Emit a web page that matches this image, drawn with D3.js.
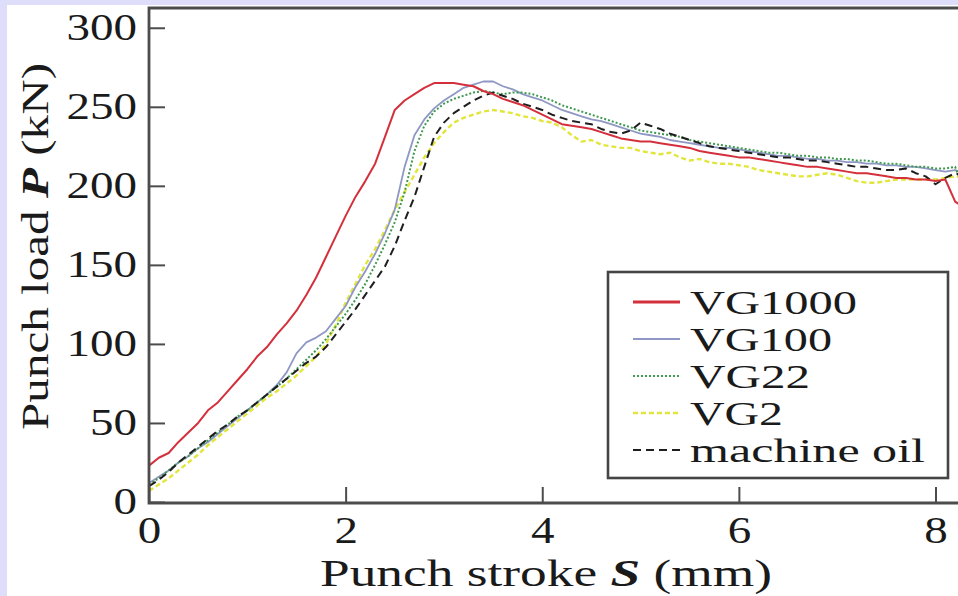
<!DOCTYPE html>
<html>
<head>
<meta charset="utf-8">
<script src="https://cdn.jsdelivr.net/npm/d3@7/dist/d3.min.js"></script>
<style>
  html, body { margin: 0; padding: 0; background: #ffffff; }
  svg { display: block; }
</style>
</head>
<body>
<svg id="chart" width="958" height="596"></svg>
<script>
// Punch stroke S (mm), sampled every 0.1 mm
const stroke = [
  0.0, 0.1, 0.2, 0.3, 0.4, 0.5, 0.6, 0.7, 0.8, 0.9,
  1.0, 1.1, 1.2, 1.3, 1.4, 1.5, 1.6, 1.7, 1.8, 1.9,
  2.0, 2.1, 2.2, 2.3, 2.4, 2.5, 2.6, 2.7, 2.8, 2.9,
  3.0, 3.1, 3.2, 3.3, 3.4, 3.5, 3.6, 3.7, 3.8, 3.9,
  4.0, 4.1, 4.2, 4.3, 4.4, 4.5, 4.6, 4.7, 4.8, 4.9,
  5.0, 5.1, 5.2, 5.3, 5.4, 5.5, 5.6, 5.7, 5.8, 5.9,
  6.0, 6.1, 6.2, 6.3, 6.4, 6.5, 6.6, 6.7, 6.8, 6.9,
  7.0, 7.1, 7.2, 7.3, 7.4, 7.5, 7.6, 7.7, 7.8, 7.9,
  8.0, 8.1, 8.2, 8.3
];

// Punch load P (kN) for each lubricant
const vg1000 = [
  23, 28, 31, 38, 44, 50, 58, 63, 70, 77,
  84, 92, 98, 106, 113, 121, 131, 142, 155, 168,
  181, 193, 203, 214, 231, 248, 254, 258, 262, 265,
  265, 265, 264, 263, 260, 258, 255, 253, 251, 248,
  245, 242, 239, 238, 237, 236, 234, 232, 230, 229,
  228, 228, 227, 226, 225, 224, 222, 221, 220, 219,
  218, 218, 217, 216, 215, 214, 213, 212, 212, 211,
  210, 209, 208, 208, 207, 206, 205, 205, 204, 204,
  203, 204, 190, 186
];
const vg100 = [
  12, 16, 20, 25, 29, 34, 38, 43, 48, 53,
  58, 63, 68, 74, 82, 94, 101, 104, 108, 116,
  124, 136, 146, 157, 170, 185, 212, 232, 242, 249,
  254, 258, 262, 264, 266, 266, 263, 261, 258, 256,
  254, 251, 248, 246, 244, 242, 241, 239, 237, 235,
  233, 232, 231, 229, 228, 227, 226, 225, 224, 224,
  223, 222, 221, 220, 219, 219, 218, 217, 217, 216,
  216, 215, 215, 214, 214, 213, 213, 212, 212, 211,
  210, 209, 210, 208
];
const vg22 = [
  11, 15, 20, 25, 29, 34, 39, 44, 49, 54,
  58, 63, 68, 73, 78, 84, 90, 96, 103, 111,
  119, 128, 138, 150, 163, 177, 196, 222, 238, 247,
  252, 255, 257, 259, 260, 259, 258, 259, 259, 258,
  256, 254, 251, 249, 247, 245, 243, 241, 239, 237,
  235, 234, 233, 232, 231, 229, 228, 227, 226, 225,
  224, 223, 222, 221, 221, 220, 219, 219, 218, 218,
  217, 217, 216, 216, 215, 214, 214, 213, 212, 212,
  211, 211, 212, 196
];
const vg2 = [
  7, 11, 15, 20, 25, 30, 36, 41, 46, 51,
  56, 61, 66, 70, 75, 80, 86, 92, 100, 112,
  126, 138, 150, 160, 172, 185, 196, 207, 218, 227,
  234, 240, 243, 245, 247, 248, 247, 246, 244, 243,
  241, 240, 237, 232, 228, 229, 226, 225, 224, 224,
  222, 221, 220, 221, 218, 216, 217, 215, 214, 214,
  213, 212, 210, 209, 208, 207, 206, 206, 207, 208,
  207, 205, 203, 202, 202, 203, 204, 204, 204, 204,
  204, 205, 206, 205
];
const machineOil = [
  10, 14, 19, 25, 30, 35, 40, 45, 49, 54,
  58, 63, 68, 73, 78, 83, 88, 92, 98, 106,
  114, 122, 131, 140, 149, 162, 178, 193, 212, 231,
  240, 246, 250, 254, 257, 259, 257, 255, 252, 250,
  248, 245, 243, 241, 240, 239, 236, 234, 233, 235,
  240, 238, 236, 233, 231, 229, 227, 225, 224, 223,
  222, 221, 220, 219, 218, 218, 217, 216, 216, 215,
  214, 213, 212, 212, 211, 210, 210, 211, 208, 206,
  201, 205, 208, 206
];

const seriesNames = ["VG1000", "VG100", "VG22", "VG2", "machine oil"];
const xTicks = [0, 2, 4, 6, 8];
const yTicks = [0, 50, 100, 150, 200, 250, 300];

// ---- drawing -------------------------------------------------------------
const svg = d3.select("#chart");
const W = 958, H = 596;
const serif = "'Liberation Serif', 'Times New Roman', serif";

// lavender page edge
svg.append("rect").attr("x", 0).attr("y", 0).attr("width", W).attr("height", 5).attr("fill", "#dedefa");
svg.append("rect").attr("x", 0).attr("y", 0).attr("width", 7).attr("height", H).attr("fill", "#dedefa");

const x = d3.scaleLinear().domain([0, 8.3]).range([149, 965]);
const y = d3.scaleLinear().domain([0, 312.5]).range([502, 8]);

const styles = [
  { data: vg1000,     color: "#d4303c", width: 2.0, dash: null,  lw: 167 },
  { data: vg100,      color: "#8f98c4", width: 1.8, dash: null,  lw: 142 },
  { data: vg22,       color: "#3f9a50", width: 2.0, dash: "2,2", lw: 120 },
  { data: vg2,        color: "#e2e63c", width: 2.4, dash: "5,3", lw: 93 },
  { data: machineOil, color: "#1e1e1e", width: 2.0, dash: "8,5", lw: 235 }
];

svg.append("clipPath").attr("id", "plotClip")
  .append("rect").attr("x", 149).attr("y", 8).attr("width", W - 149).attr("height", 495);

const line = d3.line()
  .x((d, i) => x(stroke[i]))
  .y(d => y(d));

const drawOrder = [3, 1, 2, 4, 0];
const plot = svg.append("g").attr("clip-path", "url(#plotClip)");
drawOrder.forEach(k => {
  const s = styles[k];
  plot.append("path")
    .attr("d", line(s.data))
    .attr("fill", "none")
    .attr("stroke", s.color)
    .attr("stroke-width", s.width)
    .attr("stroke-linejoin", "round")
    .attr("stroke-dasharray", s.dash);
});

// axes with inward ticks
const frameColor = "#4c4c4c";
const yAxis = svg.append("g").attr("transform", "translate(149,0)")
  .call(d3.axisLeft(y).tickValues(yTicks).tickSizeInner(-16).tickSizeOuter(0).tickPadding(12));
const xAxis = svg.append("g").attr("transform", "translate(0,503)")
  .call(d3.axisBottom(x).tickValues(xTicks).tickSizeInner(-16).tickSizeOuter(0).tickPadding(14));

[yAxis, xAxis].forEach(g => {
  g.select(".domain").remove();
  g.selectAll(".tick line").attr("stroke", frameColor).attr("stroke-width", 2);
  g.selectAll(".tick text")
    .attr("fill", "#1a1a1a")
    .style("font-family", serif)
    .style("font-size", "37px")
    .attr("textLength", function () { return this.textContent.length * 23.5; })
    .attr("lengthAdjust", "spacingAndGlyphs");
});

// plot frame (left, top, bottom; right side runs past the page)
svg.append("path")
  .attr("d", `M${W + 10},8 H149 V503 H${W + 10}`)
  .attr("fill", "none")
  .attr("stroke", frameColor)
  .attr("stroke-width", 2.8);

// axis titles
const xt = svg.append("text")
  .attr("x", 320).attr("y", 586)
  .attr("textLength", 452).attr("lengthAdjust", "spacingAndGlyphs")
  .style("font-family", serif).style("font-size", "37px").attr("fill", "#1a1a1a");
xt.append("tspan").text("Punch stroke  ");
xt.append("tspan").text("S").style("font-weight", "bold").style("font-style", "italic");
xt.append("tspan").text("  (mm)");

const yt = svg.append("text")
  .attr("transform", "translate(48,430) rotate(-90)")
  .attr("textLength", 367).attr("lengthAdjust", "spacingAndGlyphs")
  .style("font-family", serif).style("font-size", "37px").attr("fill", "#1a1a1a");
yt.append("tspan").text("Punch load  ");
yt.append("tspan").text("P").style("font-weight", "bold").style("font-style", "italic");
yt.append("tspan").text("  (kN)");

// legend
const lg = svg.append("g");
lg.append("rect")
  .attr("x", 608).attr("y", 272).attr("width", 340).attr("height", 206)
  .attr("fill", "#ffffff").attr("stroke", "#454545").attr("stroke-width", 2.6);
const baselines = [314, 351, 388, 425, 462];
seriesNames.forEach((name, i) => {
  const s = styles[i];
  const yb = baselines[i];
  lg.append("line")
    .attr("x1", 633).attr("x2", 680)
    .attr("y1", yb - 12).attr("y2", yb - 12)
    .attr("stroke", s.color)
    .attr("stroke-width", i === 0 ? 3.2 : s.width)
    .attr("stroke-dasharray", s.dash);
  lg.append("text")
    .attr("x", 690).attr("y", yb)
    .attr("textLength", s.lw).attr("lengthAdjust", "spacingAndGlyphs")
    .style("font-family", serif).style("font-size", "33px").attr("fill", "#1a1a1a")
    .text(name);
});
</script>
</body>
</html>
